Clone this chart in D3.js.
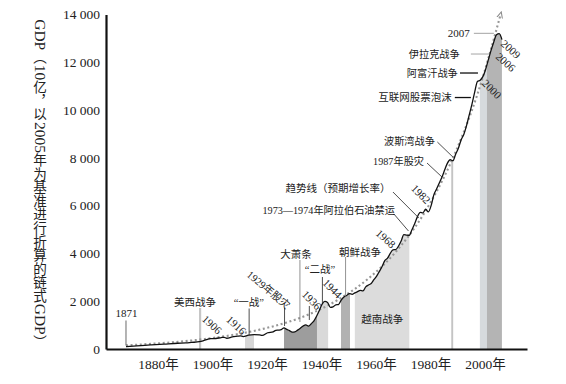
<!DOCTYPE html>
<html><head><meta charset="utf-8">
<script src="https://cdn.jsdelivr.net/npm/d3@7"></script>
<style>
html,body{margin:0;padding:0;background:#fff;}
svg{display:block;}
text{font-family:"Liberation Serif","Noto Sans CJK SC",serif;fill:#222;}
</style></head><body>
<svg id="chart" width="566" height="384"></svg>
<script>
// ---------- data ----------
const years = [1871,1875,1880,1885,1890,1893,1895,1898,1900,1902,1904,1906,1907,1908,1910,1912,1913,1914,1916,1918,1920,1921,1923,1925,1926,1927,1928,1929,1930,1931,1932,1933,1934,1935,1936,1937,1938,1939,1940,1941,1942,1943,1944,1945,1946,1947,1948,1949,1950,1951,1952,1953,1954,1955,1956,1957,1958,1959,1960,1961,1962,1963,1964,1965,1966,1967,1968,1969,1970,1971,1972,1973,1974,1975,1976,1977,1978,1979,1980,1981,1982,1983,1984,1985,1986,1987,1988,1989,1990,1991,1992,1993,1994,1995,1996,1997,1998,1999,2000,2001,2002,2003,2004,2005,2006,2007,2008,2009];
const gdp = [100,135,170,205,240,255,275,305,370,430,440,480,490,450,505,535,550,520,580,600,590,570,680,720,780,790,810,880,820,770,710,720,790,870,960,1010,960,1060,1180,1380,1620,1880,1990,1950,1740,1760,1850,1860,2050,2180,2240,2320,2290,2350,2400,2450,2430,2600,2680,2740,2900,3050,3250,3450,3700,3800,4000,4150,4160,4300,4520,4790,4770,4760,5000,5250,5540,5720,5700,5850,5740,6000,6450,6700,6950,7200,7500,7780,7920,7880,8150,8400,8750,8980,9350,9800,10250,10750,11200,11250,11400,11700,12100,12500,12850,13150,13200,12950];

// trend line (expected growth), read at decade points
const trendYears = [1871,1880,1890,1900,1910,1920,1930,1940,1950,1960,1970,1980,1990,2000,2008.5];
const trendValues = [150,215,300,420,585,810,1110,1540,2140,2950,4060,5600,7740,10660,14000];

const xTickYears = [1880,1900,1920,1940,1960,1980,2000];
const yTickValues = [0,2000,4000,6000,8000,10000,12000,14000];

// shaded periods
const periodNames = ["一战","大萧条","二战","朝鲜战争","越南战争","波斯湾战争","阿富汗战争","伊拉克战争"];
const periodStart = [1914.7,1929,1941.1,1949.9,1955,1990.4,2000.9,2003.5];
const periodEnd   = [1918,1941.1,1945.2,1953.2,1975,1991.1,2003.5,2009.2];

const yTitle = "GDP（10亿，以2005年为基准进行折算的链式GDP）";

// ---------- styles ----------
const shade = {"一战":"#d6d6d6","大萧条":"#9d9d9d","二战":"#d9d9d9","朝鲜战争":"#b2b2b2","越南战争":"#dcdcdc",
  "波斯湾战争":"#c4c4c4","阿富汗战争":"#d6dadd","伊拉克战争":"#b4b4b4"};

// ---------- scales ----------
const svg = d3.select("#chart");
const x = d3.scaleLinear().domain([1863.66, 2018.2]).range([106, 527]);
const y = d3.scaleLinear().domain([0, 14000]).range([349, 14.5]);

const series = years.map((yr,i)=>({yr, v:gdp[i]}));
const trend = trendYears.map((yr,i)=>({yr, v:trendValues[i]}));

const defs = svg.append("defs");
defs.append("marker").attr("id","arrow").attr("viewBox","0 -4 8 8").attr("refX",4).attr("refY",0)
  .attr("markerWidth",7).attr("markerHeight",7).attr("markerUnits","userSpaceOnUse").attr("orient","auto")
  .append("path").attr("d","M0,-3.2L7,0L0,3.2").attr("fill","none").attr("stroke","#8a8a8a").attr("stroke-width",1.2);

// ---------- shaded areas under the curve ----------
const area = d3.area().x(d=>x(d.yr)).y0(y(0)).y1(d=>y(d.v)).curve(d3.curveMonotoneX);
periodNames.forEach((n,i)=>{
  const id = "clip"+i;
  defs.append("clipPath").attr("id",id).append("rect")
    .attr("x", x(periodStart[i])).attr("width", x(periodEnd[i]) - x(periodStart[i]))
    .attr("y", 0).attr("height", y(0));
  svg.append("path").datum(series).attr("d", area).attr("fill", shade[n]).attr("clip-path", `url(#${id})`);
});

// Spanish-American war bar (from its label down to axis)
svg.append("line").attr("x1",x(1898.2)).attr("x2",x(1898.2)).attr("y1",y(1716)).attr("y2",y(0))
  .attr("stroke","#c6c6c6").attr("stroke-width",2.2);

// ---------- trend ----------
svg.append("path").datum(trend)
  .attr("d", d3.line().x(d=>x(d.yr)).y(d=>y(d.v)).curve(d3.curveMonotoneX))
  .attr("fill","none").attr("stroke","#979797").attr("stroke-width",2.1)
  .attr("stroke-dasharray","2 2.6").attr("marker-end","url(#arrow)");

// ---------- GDP curve ----------
svg.append("path").datum(series)
  .attr("d", d3.line().x(d=>x(d.yr)).y(d=>y(d.v)).curve(d3.curveMonotoneX))
  .attr("fill","none").attr("stroke","#111").attr("stroke-width",1.3).attr("stroke-linejoin","round");

// ---------- axes ----------
const fmt = d3.formatLocale({decimal:".",thousands:" ",grouping:[3],currency:["",""]}).format(",");
const gy = svg.append("g").attr("transform",`translate(${x.range()[0]},0)`)
  .call(d3.axisLeft(y).tickValues(yTickValues).tickSize(0).tickPadding(6).tickFormat(fmt));
gy.attr("font-family",null).attr("font-size",null);
gy.select(".domain").attr("stroke","#111").attr("stroke-width",2.2);
gy.selectAll("text").attr("font-size",13.5).attr("fill","#222");

const gx = svg.append("g").attr("transform",`translate(0,${y(0)})`)
  .call(d3.axisBottom(x).tickValues(xTickYears).tickSize(0).tickPadding(10).tickFormat(d=>d+"年"));
gx.attr("font-family",null).attr("font-size",null);
gx.select(".domain").attr("stroke","#111").attr("stroke-width",2.2);
gx.selectAll("text").attr("font-size",13.5).attr("dx",7.5).attr("fill","#222");

// ---------- y title: vertical layout, Latin runs rotated, CJK upright ----------
(function(){
  const vert = {"（":"︵","）":"︶","，":"︐"};
  const runs = yTitle.match(/[A-Za-z0-9]+|./g);
  const cjkFs = 13.6, latFs = 15.5, cx = 40;
  const g = svg.append("g").attr("fill","#333");
  const items = runs.map(r=>{
    if (/^[A-Za-z0-9]+$/.test(r)) {
      const t = g.append("g").append("text").attr("font-size",latFs).attr("text-anchor","middle")
        .attr("dominant-baseline","central").attr("fill","#333").text(r);
      return {node:t, len:t.node().getComputedTextLength()+1, rot:true};
    }
    const t = g.append("g").append("text").attr("font-size",cjkFs).attr("text-anchor","middle")
      .attr("dominant-baseline","central").attr("fill","#333").text(vert[r]||r);
    return {node:t, len:cjkFs, rot:false};
  });
  const total = d3.sum(items, d=>d.len);
  let cy = (y(0)+y(14000))/2 + 2 - total/2;
  items.forEach(it=>{
    const c = cy + it.len/2;
    d3.select(it.node.node().parentNode).attr("transform", `translate(${cx},${c})` + (it.rot?" rotate(90)":""));
    cy += it.len;
  });
})();

// ---------- annotations (positions in data coordinates) ----------
const labels = [
  {t:"1871", yr:1871.18, v:1486, a:"middle", fs:11},
  {t:"美西战争", yr:1896.3, v:1946, a:"middle", fs:10.5},
  {t:"1906", yr:1902.6, v:1025, rot:42, fs:11},
  {t:"1916", yr:1911.55, v:1004, rot:42, fs:11},
  {t:"“一战”", yr:1916.1, v:1967, a:"middle", fs:10.5},
  {t:"1929年股灾", yr:1923.3, v:2469, rot:40, fs:10.5},
  {t:"大萧条", yr:1933.4, v:3976, a:"middle", fs:10.5},
  {t:"1936", yr:1939.2, v:2051, rot:45, fs:11},
  {t:"“二战”", yr:1942.2, v:3348, a:"middle", fs:10.5},
  {t:"1944", yr:1946.8, v:2532, rot:45, fs:11},
  {t:"朝鲜战争", yr:1956.9, v:4059, a:"middle", fs:10.5},
  {t:"越南战争", yr:1965.05, v:1214, a:"middle", fs:10.5},
  {t:"1968", yr:1966.4, v:4624, rot:42, fs:11},
  {t:"1973—1974年阿拉伯石油禁运", yr:1969.7, v:5796, a:"end", fs:10.2},
  {t:"趋势线（预期增长率）", yr:1968.1, v:6717, a:"end", fs:10.5},
  {t:"1982", yr:1979.3, v:6487, rot:45, fs:11},
  {t:"1987年股灾", yr:1980.4, v:7868, a:"end", fs:10.2},
  {t:"波斯湾战争", yr:1984.4, v:8705, a:"end", fs:10.2},
  {t:"互联网股票泡沫", yr:1990.6, v:10525, a:"end", fs:10.5},
  {t:"阿富汗战争", yr:1992.8, v:11551, a:"end", fs:10.2},
  {t:"伊拉克战争", yr:1993.5, v:12346, a:"end", fs:10.2},
  {t:"2007", yr:1997.2, v:13212, a:"end", fs:11},
  {t:"2009", yr:2012.3, v:12555, rot:42, fs:11},
  {t:"2006", yr:2010.45, v:12011, rot:42, fs:11},
  {t:"2000", yr:2005.3, v:10881, rot:45, fs:11}
];
const leaders = [
  {y1:1871, v1:1193, y2:1871, v2:146, c:"#444", w:0.8},
  {y1:1916.2, v1:1695, y2:1916.2, v2:586, c:"#222", w:0.8},
  {y1:1929.2, v1:1716, y2:1929.2, v2:963, c:"#222", w:0.8},
  {y1:1934.85, v1:3725, y2:1934.85, v2:1130, c:"#777", w:0.8},
  {y1:1938.3, v1:1800, y2:1938.3, v2:1214, c:"#222", w:0.8},
  {y1:1943.1, v1:3013, y2:1943.1, v2:1925, c:"#222", w:0.8},
  {y1:1951.6, v1:3850, y2:1951.6, v2:2197, c:"#777", w:0.8},
  {y1:1969.35, v1:5650, y2:1974.7, v2:4938, c:"#222", w:0.8},
  {y1:1969.0, v1:6570, y2:1978.5, v2:5482, c:"#222", w:0.8},
  {y1:1981.5, v1:7784, y2:1987.0, v2:7198, c:"#222", w:0.8},
  {y1:1985.3, v1:8663, y2:1991.0, v2:8035, c:"#222", w:0.8},
  {y1:1991.7, v1:10525, y2:1997.6, v2:10525, c:"#111", w:1.3},
  {y1:1993.6, v1:11551, y2:2000.2, v2:11551, c:"#111", w:1.3},
  {y1:1997.6, v1:12346, y2:2004.2, v2:12346, c:"#999", w:0.9},
  {y1:1998.7, v1:13212, y2:2006.05, v2:13212, c:"#999", w:0.9}
];
svg.append("g").selectAll("line").data(leaders).join("line")
  .attr("x1",d=>x(d.y1)).attr("y1",d=>y(d.v1)).attr("x2",d=>x(d.y2)).attr("y2",d=>y(d.v2))
  .attr("stroke",d=>d.c).attr("stroke-width",d=>d.w);

const lg = svg.append("g").selectAll("g").data(labels).join("g")
  .attr("transform",d=>`translate(${x(d.yr)},${y(d.v)})` + (d.rot?` rotate(${d.rot})`:""));
lg.append("text").attr("text-anchor",d=>d.rot?"middle":d.a).attr("dominant-baseline","central")
  .attr("font-size",d=>d.fs).attr("fill","#2a2a2a").text(d=>d.t);
</script>
</body></html>
